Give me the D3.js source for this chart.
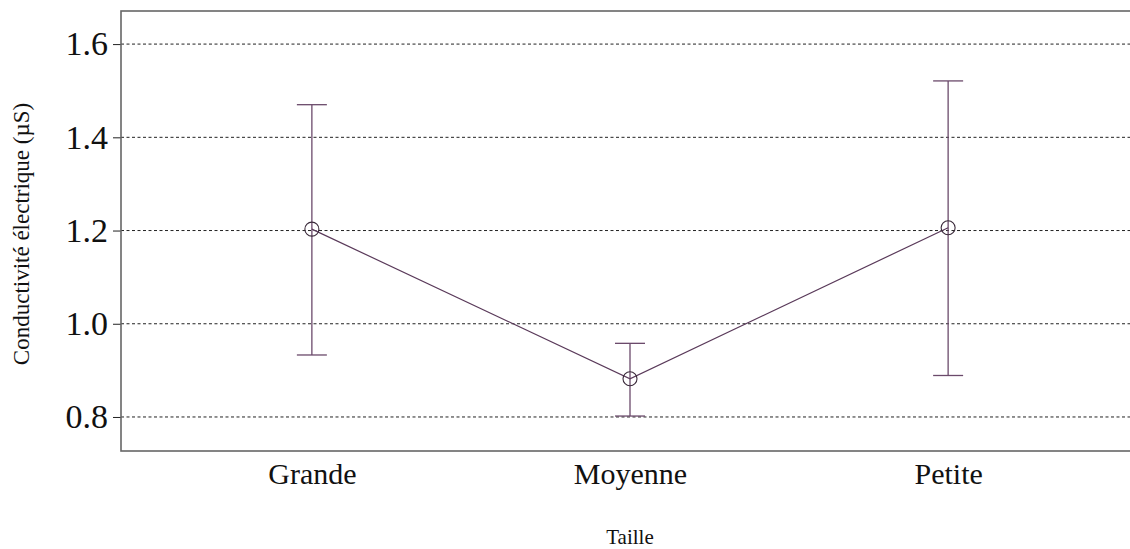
<!DOCTYPE html>
<html><head><meta charset="utf-8">
<script src="https://cdn.jsdelivr.net/npm/d3@7"></script>
<style>body{margin:0;background:#fff}svg{display:block}</style>
</head><body>
<svg id="c" width="1130" height="549"></svg>
<script>
const categories = ["Grande", "Moyenne", "Petite"];
const means = [1.203, 0.882, 1.206];
const upper = [1.470, 0.958, 1.521];
const lower = [0.933, 0.802, 0.889];
const yTicks = [0.8, 1.0, 1.2, 1.4, 1.6];

const svg = d3.select("#c");
const L = 121, R = 1139, T = 11, B = 451;
const x = d3.scalePoint().domain(categories).range([L, R]).padding(0.6);
const y = d3.scaleLinear().domain([0.727, 1.671]).range([B, T]);
const font = "'Liberation Serif','Times New Roman',serif";

// grid lines
svg.append("g").selectAll("line").data(yTicks).join("line")
  .attr("x1", L).attr("x2", 1130)
  .attr("y1", d => y(d)).attr("y2", d => y(d))
  .attr("stroke", "#222").attr("stroke-width", 1).attr("stroke-dasharray", "3,2.5");

// y axis
const ya = svg.append("g").attr("transform", `translate(${L},0)`)
  .call(d3.axisLeft(y).tickValues(yTicks).tickFormat(d3.format(".1f")).tickSize(8).tickPadding(5));
ya.select(".domain").remove();
ya.selectAll(".tick line").attr("stroke", "#222");
ya.selectAll(".tick text").attr("font-family", font).attr("font-size", 34).attr("fill", "#111");

// x axis labels
const xa = svg.append("g").attr("transform", `translate(0,${B})`)
  .call(d3.axisBottom(x).tickSize(0).tickPadding(12));
xa.select(".domain").remove();
xa.selectAll(".tick text").attr("font-family", font).attr("font-size", 30).attr("fill", "#111");

// frame
svg.append("rect").attr("x", L).attr("y", T).attr("width", 1200).attr("height", B - T)
  .attr("fill", "none").attr("stroke", "#666").attr("stroke-width", 1.6);

// error bars
const eb = svg.append("g").attr("stroke", "#6b4a6b").attr("stroke-width", 1.3);
categories.forEach((c, i) => {
  eb.append("line").attr("x1", x(c)).attr("x2", x(c)).attr("y1", y(upper[i])).attr("y2", y(lower[i]));
  eb.append("line").attr("x1", x(c) - 15).attr("x2", x(c) + 15).attr("y1", y(upper[i])).attr("y2", y(upper[i]));
  eb.append("line").attr("x1", x(c) - 15).attr("x2", x(c) + 15).attr("y1", y(lower[i])).attr("y2", y(lower[i]));
});

// mean line
svg.append("path").datum(categories.map((c, i) => [x(c), y(means[i])]))
  .attr("d", d3.line()).attr("fill", "none").attr("stroke", "#5a3a5a").attr("stroke-width", 1.2);

// points
svg.append("g").selectAll("circle").data(categories).join("circle")
  .attr("cx", d => x(d)).attr("cy", (d, i) => y(means[i])).attr("r", 7)
  .attr("fill", "none").attr("stroke", "#3a2a3a").attr("stroke-width", 1.1);

// axis titles
svg.append("text").attr("x", 630).attr("y", 544).attr("text-anchor", "middle")
  .attr("font-family", font).attr("font-size", 21).attr("fill", "#111").text("Taille");
svg.append("text").attr("transform", "translate(29,234) rotate(-90)").attr("text-anchor", "middle")
  .attr("font-family", font).attr("font-size", 23).attr("fill", "#111").text("Conductivité électrique (µS)");
</script>
</body></html>
